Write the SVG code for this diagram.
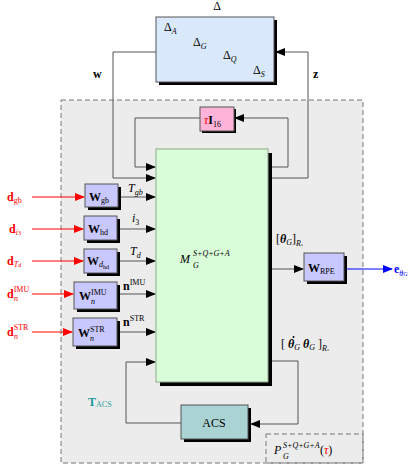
<svg xmlns="http://www.w3.org/2000/svg" width="415" height="465" viewBox="0 0 415 465">
<style>
text{font-family:"Liberation Serif","DejaVu Serif",serif;font-size:12px;fill:#000}
.b{font-weight:bold}
.i{font-style:italic}
.s{font-size:8px}
.red{fill:#ff0000}
.blue{fill:#0000ff}
.teal{fill:#1a9999}
.ln{fill:none;stroke:#555;stroke-width:1}
.box{stroke:#555;stroke-width:1}
.sh{fill:#000}
</style>
<defs>
<marker id="ah" markerWidth="10" markerHeight="8" refX="9" refY="4" orient="auto" markerUnits="userSpaceOnUse">
<path d="M0,0 L10,4 L0,8 z" fill="#000"/>
</marker>
<marker id="ahr" markerWidth="10" markerHeight="8" refX="9" refY="4" orient="auto" markerUnits="userSpaceOnUse">
<path d="M0,0 L10,4 L0,8 z" fill="#ff0000"/>
</marker>
<marker id="ahb" markerWidth="10" markerHeight="8" refX="9" refY="4" orient="auto" markerUnits="userSpaceOnUse">
<path d="M0,0 L10,4 L0,8 z" fill="#0000ff"/>
</marker>
</defs>
<rect width="415" height="465" fill="#fff"/>
<g id="region">
<rect x="61" y="100" width="302" height="363" fill="#ececec" stroke="#777" stroke-width="1" stroke-dasharray="5,3"/>
</g>
<g id="pbox">
<rect x="266" y="434" width="97" height="29" fill="none" stroke="#777" stroke-width="1" stroke-dasharray="5,3"/>
<text x="274" y="454" class="i" font-size="13">P</text>
<text x="283" y="448" class="s i">S+Q+G+A</text>
<text x="283" y="459" class="s i">G</text>
<text x="320" y="454">(<tspan class="i red">τ</tspan>)</text>
</g>
<g id="connectors">
<polyline class="ln" points="156,52 113,52 113,178 155,178" marker-end="url(#ah)"/>
<polyline class="ln" points="272,178 308,178 308,52 276,52" marker-end="url(#ah)"/>
<polyline class="ln" points="272,167 288,167 288,118 235,118" marker-end="url(#ah)"/>
<polyline class="ln" points="200,118 135,118 135,167 155,167" marker-end="url(#ah)"/>
<line class="ln" x1="118" y1="197" x2="155" y2="197" marker-end="url(#ah)"/>
<line class="ln" x1="118" y1="229" x2="155" y2="229" marker-end="url(#ah)"/>
<line class="ln" x1="118" y1="261" x2="155" y2="261" marker-end="url(#ah)"/>
<line class="ln" x1="118" y1="294" x2="155" y2="294" marker-end="url(#ah)"/>
<line class="ln" x1="118" y1="332" x2="155" y2="332" marker-end="url(#ah)"/>
<line x1="32" y1="197" x2="84" y2="197" stroke="#ff0000" marker-end="url(#ahr)"/>
<line x1="32" y1="229" x2="83" y2="229" stroke="#ff0000" marker-end="url(#ahr)"/>
<line x1="32" y1="261" x2="83" y2="261" stroke="#ff0000" marker-end="url(#ahr)"/>
<line x1="32" y1="294" x2="73" y2="294" stroke="#ff0000" marker-end="url(#ahr)"/>
<line x1="32" y1="332" x2="72" y2="332" stroke="#ff0000" marker-end="url(#ahr)"/>
<line class="ln" x1="272" y1="269" x2="303" y2="269" marker-end="url(#ah)"/>
<line x1="344" y1="269" x2="392" y2="269" stroke="#0000ff" marker-end="url(#ahb)"/>
<polyline class="ln" points="272,361 298,361 298,424 251,424" marker-end="url(#ah)"/>
<polyline class="ln" points="181,423 126,423 126,362 155,362" marker-end="url(#ah)"/>
</g>
<g id="delta">
<rect x="159" y="20" width="118" height="65" class="sh"/>
<rect x="156" y="17" width="118" height="65" fill="#d9e8fb" class="box"/>
<text x="217" y="10" text-anchor="middle">Δ</text>
<text x="164" y="31">Δ<tspan class="s i" dy="3">A</tspan></text>
<text x="193" y="46">Δ<tspan class="s i" dy="3">G</tspan></text>
<text x="223" y="59">Δ<tspan class="s i" dy="3">Q</tspan></text>
<text x="253" y="74">Δ<tspan class="s i" dy="3">S</tspan></text>
</g>
<text x="93" y="78" class="b">w</text>
<text x="313" y="78" class="b">z</text>
<g id="tauI">
<rect x="202" y="109" width="34" height="24" class="sh"/>
<rect x="200" y="107" width="34" height="24" fill="#ffb3d9" class="box"/>
<text x="204" y="124"><tspan class="i red">τ</tspan><tspan class="b">I</tspan><tspan class="s" dy="3">16</tspan></text>
</g>
<g id="main">
<rect x="160" y="153" width="112" height="233" class="sh"/>
<rect x="156" y="149" width="112" height="233" fill="#d9fcd9" stroke="#8a8" stroke-width="1"/>
<text x="180" y="263" class="i" font-size="14">M</text>
<text x="193" y="256" class="s i">S+Q+G+A</text>
<text x="193" y="268" class="s i">G</text>
</g>
<g id="Wgb">
<rect x="88" y="187" width="33" height="23" class="sh"/>
<rect x="85" y="184" width="33" height="23" fill="#c8c8ff" class="box"/>
<text x="89" y="201" class="b">W<tspan class="s" font-weight="normal" dy="2">gb</tspan></text>
</g>
<g id="Whd">
<rect x="87" y="219" width="33" height="24" class="sh"/>
<rect x="84" y="216" width="33" height="24" fill="#c8c8ff" class="box"/>
<text x="88" y="233" class="b">W<tspan class="s" font-weight="normal" dy="2">hd</tspan></text>
</g>
<g id="Wdhd">
<rect x="87" y="252" width="33" height="24" class="sh"/>
<rect x="84" y="249" width="33" height="24" fill="#c8c8ff" class="box"/>
<text x="87" y="265" class="b">W<tspan class="s i" font-weight="normal" dy="2">d</tspan><tspan font-size="6" font-weight="normal" dy="2">hd</tspan></text>
</g>
<g id="WIMU">
<rect x="77" y="285" width="43" height="27" class="sh"/>
<rect x="74" y="282" width="43" height="27" fill="#c8c8ff" class="box"/>
<text x="79" y="300" class="b">W<tspan class="s" font-weight="normal" dy="-5">IMU</tspan><tspan class="s i" font-weight="normal" x="91" dy="9">n</tspan></text>
</g>
<g id="WSTR">
<rect x="76" y="321" width="44" height="28" class="sh"/>
<rect x="73" y="318" width="44" height="28" fill="#c8c8ff" class="box"/>
<text x="78" y="337" class="b">W<tspan class="s" font-weight="normal" dy="-5">STR</tspan><tspan class="s i" font-weight="normal" x="90" dy="9">n</tspan></text>
</g>
<g id="WRPE">
<rect x="307" y="256" width="40" height="28" class="sh"/>
<rect x="304" y="253" width="40" height="28" fill="#c8c8ff" class="box"/>
<text x="308" y="272" class="b">W<tspan class="s" font-weight="normal" dy="2">RPE</tspan></text>
</g>
<g id="ACS">
<rect x="184" y="408" width="67" height="34" class="sh"/>
<rect x="181" y="405" width="67" height="34" fill="#aad4d4" class="box"/>
<text x="214" y="427" text-anchor="middle">ACS</text>
</g>
<text x="128" y="192" class="i">T<tspan class="s" dy="3">gb</tspan></text>
<text x="132" y="222" class="i">i<tspan class="s" font-style="normal" dy="3">3</tspan></text>
<text x="130" y="255" class="i">T<tspan class="s" dy="3">d</tspan></text>
<text x="123" y="290" class="b">n<tspan class="s" font-weight="normal" dy="-5">IMU</tspan></text>
<text x="123" y="326" class="b">n<tspan class="s" font-weight="normal" dy="-5">STR</tspan></text>
<text x="7" y="201" class="b red">d<tspan class="s" font-weight="normal" dy="2">gb</tspan></text>
<text x="9" y="233" class="b red">d<tspan class="s i" font-weight="normal" dy="2">i</tspan><tspan font-size="6" font-weight="normal">3</tspan></text>
<text x="7" y="265" class="b red">d<tspan class="s i" font-weight="normal" dy="2">T</tspan><tspan font-size="6" class="i" font-weight="normal">d</tspan></text>
<text x="7" y="298" class="b red">d<tspan class="s" font-weight="normal" dy="-6">IMU</tspan><tspan class="s i" font-weight="normal" x="14" dy="9">n</tspan></text>
<text x="7" y="336" class="b red">d<tspan class="s" font-weight="normal" dy="-6">STR</tspan><tspan class="s i" font-weight="normal" x="14" dy="9">n</tspan></text>
<text x="276" y="243">[<tspan class="b i">θ</tspan><tspan class="s i" dy="2">G</tspan><tspan dy="-2">]</tspan><tspan class="s i" dy="3">R</tspan><tspan font-size="5" class="i">s</tspan></text>
<circle cx="293.5" cy="337" r="1" fill="#000"/>
<text x="281" y="348">[ <tspan class="b i">θ</tspan><tspan class="s i" dy="2">G</tspan><tspan class="b i" dy="-2"> θ</tspan><tspan class="s i" dy="2">G</tspan><tspan dy="-2">  ]</tspan><tspan class="s i" dy="3">R</tspan><tspan font-size="5" class="i">s</tspan></text>
<text x="394" y="273" class="b blue">e<tspan class="s i" font-weight="normal" dy="3">θ</tspan><tspan font-size="6" class="i" font-weight="normal">G</tspan></text>
<text x="88" y="406" class="b teal" font-size="13">T<tspan class="s" font-weight="normal" dy="1">ACS</tspan></text>
</svg>
